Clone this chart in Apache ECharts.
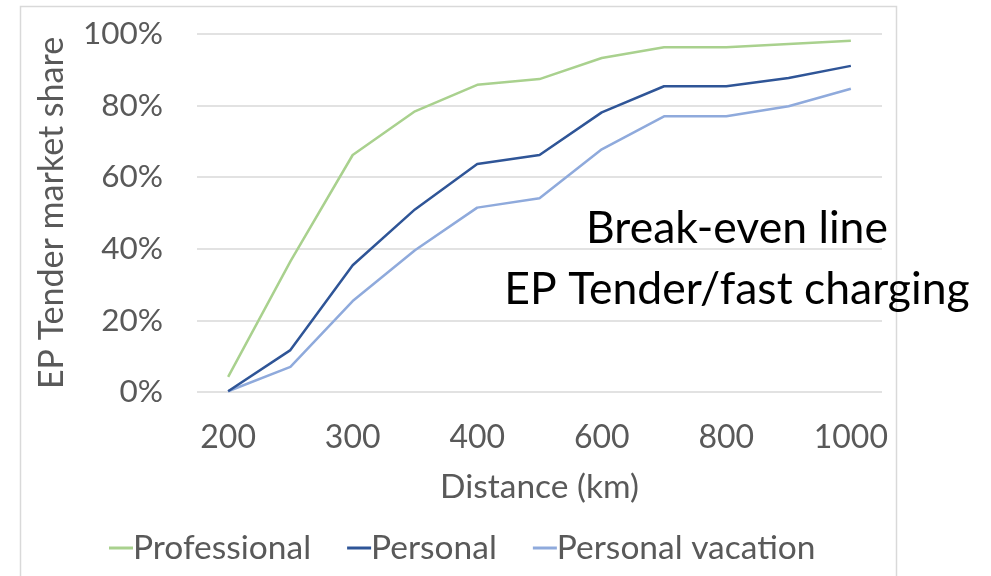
<!DOCTYPE html>
<html>
<head>
<meta charset="utf-8">
<script src="https://cdn.jsdelivr.net/npm/echarts@6/dist/echarts.min.js"></script>
<style>
html,body{margin:0;padding:0;background:#fff;}
#chart{width:991px;height:576px;}
</style>
</head>
<body>
<div id="chart"></div>
<script>
var categories = ['200','250','300','350','400','500','600','700','800','900','1000'];
var professional = [0.042, 0.365, 0.662, 0.784, 0.858, 0.874, 0.933, 0.963, 0.963, 0.972, 0.981];
var personal = [0.002, 0.117, 0.354, 0.510, 0.637, 0.662, 0.781, 0.854, 0.854, 0.877, 0.911];
var personalVacation = [0.002, 0.070, 0.254, 0.396, 0.515, 0.541, 0.678, 0.770, 0.770, 0.798, 0.847];
var seriesNames = ['Professional', 'Personal', 'Personal vacation'];
var yTicks = ['0%', '20%', '40%', '60%', '80%', '100%'];
var annotationLines = ['Break-even line', 'EP Tender/fast charging'];
var xTitle = 'Distance (km)';
var yTitle = 'EP Tender market share';

var colors = ['#a9d18e', '#2f5597', '#8faadc'];
var FONT = 'Lato';
var gray = '#595959';

var chart = echarts.init(document.getElementById('chart'), null, {renderer: 'canvas'});
var allData = [professional, personal, personalVacation];

chart.setOption({
  animation: false,
  backgroundColor: '#ffffff',
  grid: {left: 197, right: 109, top: 34, bottom: 184, containLabel: false},
  legend: {
    data: seriesNames,
    left: 104,
    bottom: 6,
    icon: 'rect',
    itemWidth: 24,
    itemHeight: 3,
    itemGap: 36,
    textStyle: {fontFamily: FONT, fontSize: 33.5, color: gray, padding: [0, 0, 0, -5]}
  },
  xAxis: {
    type: 'category',
    data: categories,
    boundaryGap: true,
    axisLine: {show: false},
    axisTick: {show: false},
    axisLabel: {
      interval: 1,
      margin: 30,
      fontFamily: FONT, fontSize: 32, color: gray
    },
    name: xTitle,
    nameLocation: 'middle',
    nameGap: 78,
    nameTextStyle: {fontFamily: FONT, fontSize: 33.5, color: gray}
  },
  yAxis: {
    type: 'value',
    min: 0, max: 1, interval: 0.2,
    axisLine: {show: false},
    axisTick: {show: false},
    splitLine: {lineStyle: {color: '#d9d9d9', width: 1.5}},
    axisLabel: {
      margin: 34,
      fontFamily: FONT, fontSize: 31.5, color: gray,
      formatter: function (v) { return yTicks[Math.round(v / 0.2)]; }
    },
    name: yTitle,
    nameLocation: 'middle',
    nameGap: 128,
    nameTextStyle: {fontFamily: FONT, fontSize: 34, color: gray}
  },
  series: seriesNames.map(function (n, i) {
    return {
      name: n,
      type: 'line',
      data: allData[i],
      symbol: 'none',
      smooth: false,
      color: colors[i],
      lineStyle: {width: 2.5, color: colors[i]},
      z: 3 - i
    };
  }),
  graphic: [
    {
      type: 'rect',
      shape: {x: 20.5, y: 6.5, width: 876, height: 620},
      style: {fill: 'none', stroke: '#d9d9d9', lineWidth: 1.5},
      silent: true, z: -1
    },
    {
      type: 'text', x: 737, y: 229,
      style: {text: annotationLines[0], fontFamily: FONT, fontSize: 44.5, fill: '#000', textAlign: 'center', textVerticalAlign: 'middle'}
    },
    {
      type: 'text', x: 737, y: 290,
      style: {text: annotationLines[1], fontFamily: FONT, fontSize: 44.5, fill: '#000', textAlign: 'center', textVerticalAlign: 'middle'}
    }
  ]
});
</script>
</body>
</html>
